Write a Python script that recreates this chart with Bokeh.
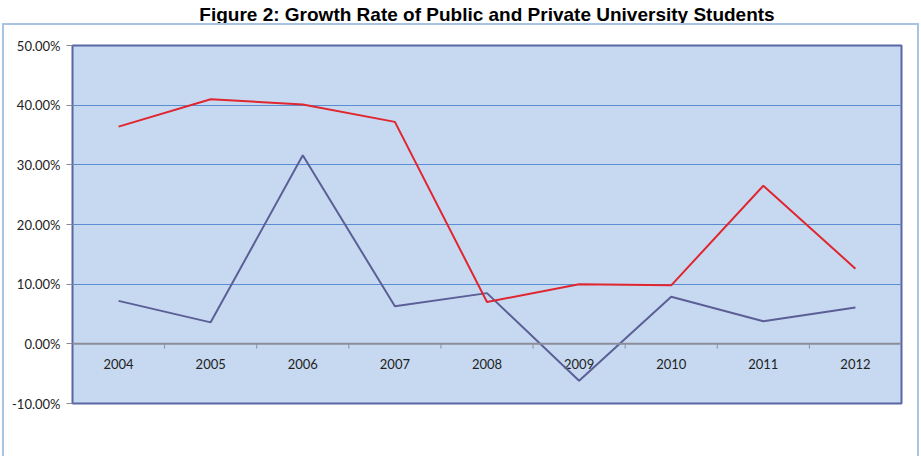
from bokeh.plotting import figure
from bokeh.models import (Range1d, FixedTicker, NumeralTickFormatter, Span, Title,
                          Legend, LegendItem, ColumnDataSource, InlineStyleSheet)
from bokeh.core.properties import value
from bokeh.embed import file_html
from bokeh.resources import INLINE

years = ["2004", "2005", "2006", "2007", "2008", "2009", "2010", "2011", "2012"]
public_growth = [0.072, 0.036, 0.316, 0.063, 0.085, -0.062, 0.079, 0.038, 0.061]
private_growth = [0.364, 0.410, 0.401, 0.372, 0.070, 0.100, 0.098, 0.265, 0.126]
y_ticks = [-0.10, 0.0, 0.10, 0.20, 0.30, 0.40, 0.50]

FONT = "Lato"
idx = list(range(len(years)))

p = figure(width=921, height=456, frame_width=829, frame_height=358,
           min_border_left=72, min_border_right=20,
           min_border_top=45, min_border_bottom=53, output_backend="svg",
           toolbar_location=None, x_range=Range1d(-0.5, len(years) - 0.5),
           y_range=Range1d(-0.10, 0.50))

# spacer between frame and title, then the title itself on top
p.add_layout(Title(text=" ", text_font_size="17px", standoff=0), "above")
p.add_layout(Title(text="Figure 2: Growth Rate of Public and Private University Students",
                   align="center", text_font="Liberation Sans", text_font_style="bold",
                   text_font_size="19px", text_color="black", standoff=0), "above")

p.background_fill_color = "#c6d9f1"
p.border_fill_color = "white"
p.outline_line_color = "#5b67a3"
p.outline_line_width = 2

p.xaxis.visible = False
p.xgrid.visible = False
p.ygrid.ticker = FixedTicker(ticks=[0.1, 0.2, 0.3, 0.4])
p.ygrid.grid_line_color = "#5a8ed0"
p.ygrid.grid_line_width = 1

ax = p.yaxis[0]
ax.ticker = FixedTicker(ticks=y_ticks)
ax.formatter = NumeralTickFormatter(format="0.00%")
ax.axis_line_color = None
ax.major_tick_out = 6
ax.major_tick_in = 0
ax.major_tick_line_color = "#8c8c8c"
ax.minor_tick_line_color = None
ax.major_label_text_font = FONT
ax.major_label_text_font_size = "13px"
ax.major_label_text_color = "#222222"
ax.major_label_standoff = 6

# zero line with category separators
p.add_layout(Span(location=0, dimension="width", line_color="#8d8d9a", line_width=2))
p.segment(x0=[i + 0.5 for i in idx[:-1]], y0=[0] * (len(idx) - 1),
          x1=[i + 0.5 for i in idx[:-1]], y1=[-0.008] * (len(idx) - 1),
          line_color="#8d8d9a", line_width=1)

# category labels sit just below the zero line
p.text(x=idx, y=[-0.0335] * len(idx), text=years, text_align="center",
       text_baseline="middle", text_font=value(FONT), text_font_size="13px",
       text_color="#222222")

src = ColumnDataSource(dict(x=idx, pub=public_growth, pri=private_growth))
r_pub = p.line("x", "pub", source=src, line_color="#5c5f96", line_width=2)
r_pri = p.line("x", "pri", source=src, line_color="#e0262f", line_width=2)

legend = Legend(items=[LegendItem(label="Public University", renderers=[r_pub]),
                       LegendItem(label="Private University", renderers=[r_pri])],
                orientation="horizontal", location="bottom",
                background_fill_alpha=0, border_line_color=None,
                label_text_font=FONT, label_text_font_size="13px",
                label_text_color="#222222", glyph_width=40, spacing=27,
                padding=0, margin=1)
p.add_layout(legend, "below")

# light frame around the chart body, below the title
p.stylesheets = [InlineStyleSheet(css="""
:host { position: relative; }
:host::after {
  content: ""; position: absolute; left: 2px; top: 23px; right: 2px; bottom: -12px;
  border: 2px solid #a9c4e2; pointer-events: none;
}
""")]

open("out.html", "w").write(file_html(p, INLINE))
